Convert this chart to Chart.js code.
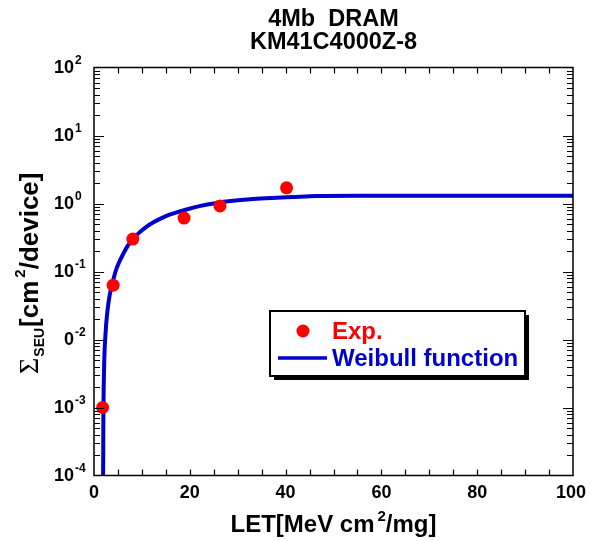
<!DOCTYPE html>
<html><head><meta charset="utf-8">
<script src="https://cdn.jsdelivr.net/npm/chart.js@4.4.1/dist/chart.umd.min.js"></script>
<style>html,body{margin:0;padding:0;background:#fff;}#wrap{width:591px;height:541px;position:relative;}canvas{display:block;}</style>
</head><body><div id="wrap"><canvas id="c" width="591" height="541"></canvas></div>
<script>
// ---- data ----
const titleLines = ['4Mb  DRAM', 'KM41C4000Z-8'];
const expLET   = [1.8, 4.0, 8.1, 18.8, 26.3, 40.2];
const expSigma = [1.0e-3, 0.063, 0.30, 0.61, 0.92, 1.7];
const fitLET   = [1.88, 1.9, 1.92, 1.95, 2.1, 2.4, 2.8, 3.3, 3.9, 4.5, 5.1, 6.1, 7.0, 8.1, 9.5, 11.0, 12.5, 14.0, 15.9, 17.5, 19.3, 22.0, 25.6, 29.0, 32.6, 36.0, 40.2, 44.0, 46.5, 55, 70, 85, 100];
const fitSigma = [1e-5, 1e-4, 1.7e-4, 5.6e-4, 3.6e-3, 0.012, 0.026, 0.046, 0.070, 0.100, 0.130, 0.181, 0.236, 0.30, 0.376, 0.458, 0.535, 0.605, 0.69, 0.75, 0.815, 0.915, 1.02, 1.095, 1.155, 1.195, 1.235, 1.265, 1.29, 1.30, 1.30, 1.30, 1.30];
const xTickValues = [0, 20, 40, 60, 80, 100];
const xTickLabels = ['0', '20', '40', '60', '80', '100'];
const yTickExps  = [-4, -3, -2, -1, 0, 1, 2];
const yTickBases = ['10', '10', '0', '10', '10', '10', '10'];
const yTickSups  = ['-4', '-3', '-2', '-1', '0', '1', '2'];
const legendLabels = ['Exp.', 'Weibull function'];
const xTitleParts = ['LET[MeV cm', '2', '/mg]'];
const yTitleParts = ['\u03A3', 'SEU', '[cm', '2', '/device]'];

const RED = '#ff0000', BLUE = '#0000cc';
const SANS = '"Liberation Sans", Arial, sans-serif';
const SERIF = '"Liberation Serif", "Times New Roman", serif';

const decorPlugin = {
  id: 'decor',
  afterDatasetsDraw(chart) {
    const ctx = chart.ctx, a = chart.chartArea;
    const xs = chart.scales.x, ys = chart.scales.y;
    ctx.save();
    // frame
    ctx.strokeStyle = '#000'; ctx.lineWidth = 1.5;
    ctx.strokeRect(a.left, a.top, a.right - a.left, a.bottom - a.top);
    ctx.lineWidth = 1.2;
    ctx.beginPath();
    // x ticks every 5
    for (let v = 5; v < 100; v += 5) {
      const px = Math.round(xs.getPixelForValue(v)) + 0.5;
      ctx.moveTo(px, a.bottom); ctx.lineTo(px, a.bottom - 6);
      ctx.moveTo(px, a.top); ctx.lineTo(px, a.top + 6);
    }
    // y ticks
    for (let e = -4; e < 2; e++) {
      for (let m = 1; m <= 9; m++) {
        const v = m * Math.pow(10, e);
        const py = Math.round(ys.getPixelForValue(v)) + 0.5;
        const len = (m === 1) ? 10 : 6;
        if (m === 1 && e === -4) continue;
        ctx.moveTo(a.left, py); ctx.lineTo(a.left + len, py);
        ctx.moveTo(a.right, py); ctx.lineTo(a.right - len, py);
      }
    }
    ctx.stroke();

    ctx.fillStyle = '#000';
    // x tick labels
    ctx.font = 'bold 18px ' + SANS;
    ctx.textAlign = 'center'; ctx.textBaseline = 'middle';
    xTickValues.forEach((v, i) => {
      ctx.fillText(xTickLabels[i], xs.getPixelForValue(v) - (v === 100 ? 2 : 0), a.bottom + 18);
    });
    // y tick labels with superscripts
    yTickExps.forEach((e, i) => {
      const py = ys.getPixelForValue(Math.pow(10, e));
      ctx.font = 'bold 18px ' + SANS;
      ctx.textAlign = 'right'; ctx.textBaseline = 'middle';
      ctx.fillText(yTickBases[i], 74, py + 1);
      ctx.font = 'bold 12px ' + SANS;
      ctx.textAlign = 'left'; ctx.textBaseline = 'middle';
      ctx.fillText(yTickSups[i], 75, py - 7);
    });

    // title
    ctx.font = 'bold 23.5px ' + SANS;
    ctx.textAlign = 'center'; ctx.textBaseline = 'middle';
    const cx = (a.left + a.right) / 2;
    ctx.fillText(titleLines[0], cx, 20);
    ctx.fillText(titleLines[1], cx, 43);

    // x axis title
    ctx.textBaseline = 'alphabetic'; ctx.textAlign = 'left';
    const fBig = 'bold 24px ' + SANS, fSup = 'bold 15px ' + SANS;
    ctx.font = fBig; const w0 = ctx.measureText(xTitleParts[0]).width;
    ctx.font = fSup; const w1 = ctx.measureText(xTitleParts[1]).width;
    ctx.font = fBig; const w2 = ctx.measureText(xTitleParts[2]).width;
    const gap = 3;
    let x0 = cx - (w0 + gap + w1 + w2) / 2;
    const bl = 532;
    ctx.font = fBig; ctx.fillText(xTitleParts[0], x0, bl);
    ctx.font = fSup; ctx.fillText(xTitleParts[1], x0 + w0 + gap, bl - 11);
    ctx.font = fBig; ctx.fillText(xTitleParts[2], x0 + w0 + gap + w1, bl);

    // y axis title (rotated)
    ctx.save();
    ctx.translate(38, 374);
    ctx.rotate(-Math.PI / 2);
    ctx.textAlign = 'left'; ctx.textBaseline = 'alphabetic';
    let t = 0;
    ctx.font = '28px ' + SERIF; ctx.fillText(yTitleParts[0], t, 0);
    t += ctx.measureText(yTitleParts[0]).width + 1;
    ctx.font = 'bold 14px ' + SANS; ctx.fillText(yTitleParts[1], t, 6);
    t += ctx.measureText(yTitleParts[1]).width + 1;
    ctx.font = 'bold 26px ' + SANS; ctx.fillText(yTitleParts[2], t, 0);
    t += ctx.measureText(yTitleParts[2]).width + 3;
    ctx.font = 'bold 15px ' + SANS; ctx.fillText(yTitleParts[3], t, -13);
    t += ctx.measureText(yTitleParts[3]).width;
    ctx.font = 'bold 26px ' + SANS; ctx.fillText(yTitleParts[4], t, 0);
    ctx.restore();

    // legend box
    const L = 270, T = 311, W = 255, H = 65;
    ctx.fillStyle = '#000';
    ctx.fillRect(L + 4, T + 4, W, H);
    ctx.fillStyle = '#fff';
    ctx.fillRect(L, T, W, H);
    ctx.strokeStyle = '#000'; ctx.lineWidth = 2;
    ctx.strokeRect(L, T, W, H);
    // marker
    ctx.fillStyle = RED;
    ctx.beginPath(); ctx.arc(303, 331, 6.5, 0, Math.PI * 2); ctx.fill();
    ctx.font = 'bold 24px ' + SANS;
    ctx.textAlign = 'left'; ctx.textBaseline = 'middle';
    ctx.fillText(legendLabels[0], 332, 332);
    ctx.strokeStyle = BLUE; ctx.lineWidth = 3.5;
    ctx.beginPath(); ctx.moveTo(278, 358); ctx.lineTo(327, 358); ctx.stroke();
    ctx.fillStyle = BLUE;
    ctx.fillText(legendLabels[1], 332, 359);
    ctx.restore();
  }
};

new Chart(document.getElementById('c'), {
  type: 'scatter',
  data: {
    datasets: [
      {
        label: legendLabels[0],
        data: expLET.map((x, i) => ({ x: x, y: expSigma[i] })),
        backgroundColor: RED, borderColor: RED,
        pointRadius: 6.5, pointHoverRadius: 6.5, borderWidth: 0,
        showLine: false, order: 0
      },
      {
        label: legendLabels[1],
        data: fitLET.map((x, i) => ({ x: x, y: fitSigma[i] })),
        borderColor: BLUE, backgroundColor: BLUE,
        borderWidth: 4, pointRadius: 0, showLine: true,
        cubicInterpolationMode: 'monotone', order: 1
      }
    ]
  },
  options: {
    responsive: false, animation: false, devicePixelRatio: 1,
    layout: { padding: { left: 94, top: 67.5, right: 18, bottom: 65.5 } },
    plugins: { legend: { display: false }, tooltip: { enabled: false }, title: { display: false } },
    scales: {
      x: { type: 'linear', min: 0, max: 100, display: false },
      y: { type: 'logarithmic', min: 1e-4, max: 1e2, display: false }
    }
  },
  plugins: [decorPlugin]
});
</script>
</body></html>
